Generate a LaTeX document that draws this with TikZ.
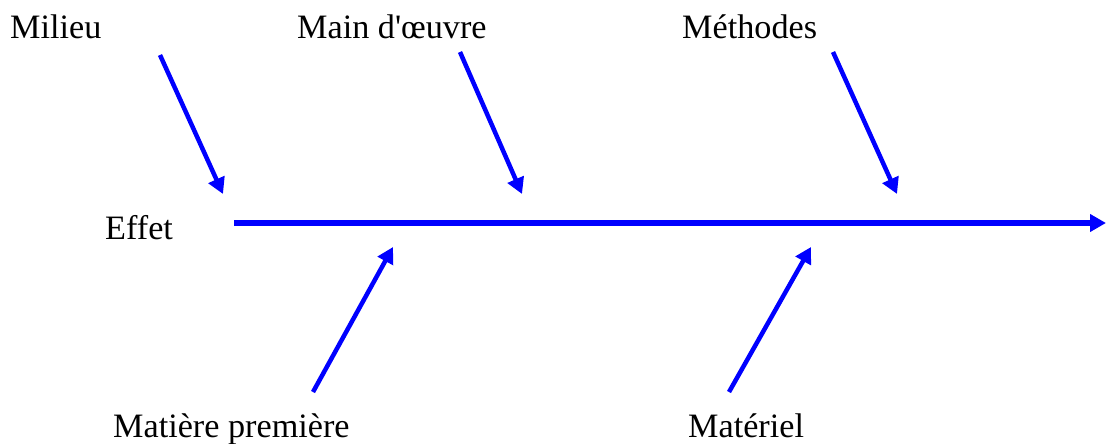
\documentclass[tikz,border=0pt]{standalone}
\usepackage{fontspec}
\setmainfont{Liberation Serif}
\usetikzlibrary{arrows.meta}

\begin{document}
\begin{tikzpicture}[x=1pt,y=-1pt,
  cause/.style={line width=4.5pt,draw=blue,-{Triangle[length=16pt,width=17pt]}},
  label/.style={anchor=base west,inner sep=0pt,font=\fontsize{34.2}{40}\selectfont}]
\useasboundingbox (0,0) rectangle (1106,444);
% libelles
\node[label] (milieu) at (10,39) {Milieu};
\node[label] (mo) at (297,39) {Main d\textquotesingle\oe uvre};
\node[label] (meth) at (682,39) {Méthodes};
\node[label] (effet) at (105,239) {Effet};
\node[label] (mp) at (113,437) {Matière première};
\node[label] (mat) at (688,437) {Matériel};
% arete principale et causes
\coordinate (S0) at (234,223); \coordinate (S1) at (1106,223);
\coordinate (A0) at (160,55); \coordinate (A1) at (223,194);
\coordinate (B0) at (460,52); \coordinate (B1) at (522,194);
\coordinate (C0) at (833,52); \coordinate (C1) at (897,194);
\coordinate (D0) at (313,392); \coordinate (D1) at (393,247);
\coordinate (E0) at (729,392); \coordinate (E1) at (811,247);
\draw[cause,line width=5.5pt] (S0)--(S1);
\draw[cause] (A0)--(A1); \draw[cause] (B0)--(B1); \draw[cause] (C0)--(C1);
\draw[cause] (D0)--(D1); \draw[cause] (E0)--(E1);
\end{tikzpicture}
\end{document}
